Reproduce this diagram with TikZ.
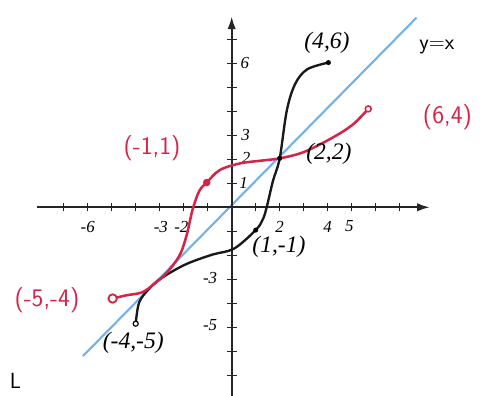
\documentclass[tikz,border=0pt]{standalone}
\usepackage{fontspec}
\usetikzlibrary{arrows.meta}
\newfontfamily\printfont{Liberation Serif}
\definecolor{redpen}{RGB}{214,36,72}
\definecolor{skyline}{RGB}{115,178,232}
\begin{document}
\begin{tikzpicture}[x=1cm,y=1cm,
  axisline/.style={line width=2.2pt, black!85, -{Latex[length=15pt,width=10pt]}},
  tickmark/.style={line width=1.8pt, black!85},
  ticklabel/.style={font=\fontsize{20}{22}\selectfont\printfont\itshape, inner sep=0pt},
  ptlabel/.style={font=\fontsize{28}{30}\selectfont\printfont\itshape, inner sep=0pt},
  handred/.style={font=\fontsize{30}{32}\selectfont\sffamily, text=redpen, inner sep=0pt},
  handblack/.style={font=\fontsize{26}{28}\selectfont\sffamily, inner sep=0pt},
  blackcurve/.style={line width=2.8pt, black!90},
  redcurve/.style={line width=3pt, redpen},
  diagline/.style={line width=2.5pt, skyline},
  blackdot/.style={fill=black, inner sep=0pt, minimum size=6pt, circle},
  opendot/.style={draw, fill=white, line width=1.4pt, inner sep=0pt, minimum size=6pt, circle}]
\useasboundingbox (-9.654,-7.8625) rectangle (10.638,8.6375);
\fill[white] (-9.654,-7.8625) rectangle (10.638,8.6375);

% line y = x
\draw[diagline] (-6.2,-6.2) -- (7.7,7.9);

% axes
\draw[axisline] (-8.1,0) -- (8.25,0);
\draw[axisline] (0,-8) -- (0,7.95);
\foreach \t in {-7,...,-1,1,2,...,7} {
  \draw[tickmark] (\t,-0.17) -- (\t,0.17);
  \draw[tickmark] (-0.21,\t) -- (0.21,\t);
}

% tick labels
\node[ticklabel] (xm6) at (-6,-0.8) {-6};
\node[ticklabel] (xm3) at (-2.95,-0.8) {-3};
\node[ticklabel] (xm2) at (-2.1,-0.8) {-2};
\node[ticklabel] (xp2) at (2,-0.8) {2};
\node[ticklabel] (xp4) at (4,-0.8) {4};
\node[ticklabel] (xp5) at (4.9,-0.8) {5};
\node[ticklabel] (yp6) at (0.55,6) {6};
\node[ticklabel] (yp3) at (0.58,3) {3};
\node[ticklabel] (yp2) at (0.6,2.05) {2};
\node[ticklabel] (yp1) at (0.5,1) {1};
\node[ticklabel] (ym3) at (-0.9,-2.96) {-3};
\node[ticklabel] (ym5) at (-0.9,-4.9) {-5};

% key points
\coordinate (pA) at (-4,-4.85);
\coordinate (pB) at (1,-0.95);
\coordinate (pC) at (2,2.04);
\coordinate (pD) at (4.03,6.03);
\coordinate (qA) at (-4.96,-3.8);
\coordinate (qB) at (-1.04,1.03);
\coordinate (qC) at (5.69,4.1);

% black curve
\draw[blackcurve] plot[smooth, tension=0.55] coordinates {
  (pA) (-3.85,-3.95) (-3.4,-3.35) (-2.85,-2.9) (-1.9,-2.37) (-0.8,-1.97)
  (0.1,-1.72) (pB) (1.3,-0.5) (1.47,0.05) (1.72,1.1) (pC) (2.3,4.05)
  (2.65,5.15) (3.15,5.75) (pD)};

% red curve
\draw[redcurve] plot[smooth, tension=0.55] coordinates {
  (qA) (-4.4,-3.67) (-3.75,-3.55) (-3.3,-3.25) (-2.85,-2.87) (-2.45,-2.42)
  (-2.12,-1.9) (-1.86,-1.1) (-1.63,-0.1) (-1.35,0.68) (qB) (-0.5,1.55)
  (0.35,1.83) (1.2,1.94) (pC) (3,2.3) (4.2,2.9) (5.05,3.45) (qC)};

% dots
\node[opendot] (dA) at (pA) {};
\node[blackdot] (dB) at (pB) {};
\node[blackdot] (dC) at (pC) {};
\node[blackdot] (dD) at (pD) {};
\node[circle, fill=redpen, inner sep=0pt, minimum size=9pt] (eB) at (qB) {};
\node[circle, draw=redpen, fill=white, line width=2.2pt, inner sep=0pt, minimum size=10pt] (eA) at (qA) {};
\node[circle, draw=redpen, fill=white, line width=1.8pt, inner sep=0pt, minimum size=7pt] (eC) at (qC) {};

% printed labels
\node[ptlabel] (l46) at (3.97,6.85) {(4,6)};
\node[ptlabel] (l22) at (4.05,2.22) {(2,2)};
\node[ptlabel] (l1m1) at (1.97,-1.65) {(1,-1)};
\node[ptlabel] (lm4m5) at (-4.1,-5.65) {(-4,-5)};

% handwritten labels
\node[handblack] (lyx) at (8.55,6.68) {y=x};
\node[handred] (l64) at (8.99,3.76) {(6,4)};
\node[handred] (lm11) at (-3.32,2.47) {(-1,1)};
\node[handred] (lm5m4) at (-7.7,-3.86) {(-5,-4)};

% stray letter at bottom left
\node[handblack, anchor=south west] (stray) at (-9.25,-7.55) {L};
\end{tikzpicture}
\end{document}
